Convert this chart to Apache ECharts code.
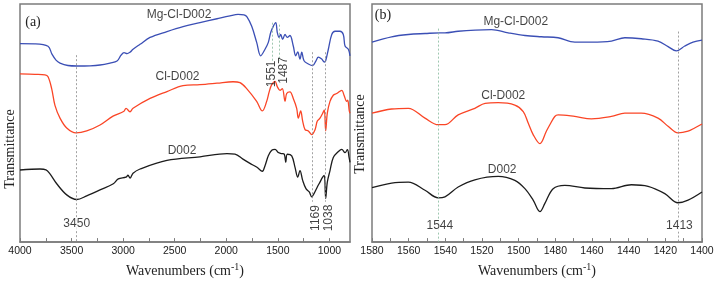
<!DOCTYPE html>
<html>
<head>
<meta charset="utf-8">
<script src="https://cdn.jsdelivr.net/npm/echarts@6/dist/echarts.min.js"></script>
<style>
  html, body { margin: 0; padding: 0; background: #fff; }
  #chart { width: 718px; height: 283px; }
</style>
</head>
<body>
<div id="chart"></div>
<script>
// panel (a): wavenumber, transmittance (offset, a.u.)
const aMg = [[4000,201.7],[3855,201.5],[3728,199],[3690,191],[3651,185],[3612,182],[3535,179.5],[3447,179],[3321,179.2],[3224,180],[3127,182],[3059,184],[3020,190],[2991,192.5],[2962,191.5],[2933,193],[2904,196],[2836,201],[2739,208],[2575,214],[2419,219],[2255,223],[2090,227],[1964,230],[1886,231.5],[1828,231],[1799,229],[1753,219.3],[1705,203],[1666,189.3],[1624,196],[1592,203],[1569,213],[1544,219.3],[1520,223],[1505,213],[1488,208],[1472,211],[1453,206],[1430,211],[1408,208],[1382,210],[1350,199.3],[1327,189.3],[1307,193.3],[1285,186],[1268,193],[1246,184.3],[1204,181],[1162,179.3],[1130,184.3],[1107,188],[1074,186],[1049,183],[1036,184.3],[1010,196],[977,211],[945,214.3],[897,214.3],[865,211],[848,199.3],[816,196],[800,189.3]];
const aCl = [[4000,171],[3855,170.5],[3758,170],[3728,168],[3693,156],[3661,139],[3612,126],[3547,116],[3457,111],[3353,113],[3224,119],[3098,128],[2992,133],[2972,136],[2933,132.5],[2904,136],[2739,146],[2575,153],[2419,159],[2255,160],[2090,161.5],[1934,163],[1867,162],[1802,156],[1705,143],[1650,133.3],[1608,143],[1583,153],[1559,160],[1527,163.3],[1505,158],[1479,154.3],[1456,156],[1430,143],[1414,151],[1382,152.7],[1350,146],[1317,136],[1301,126],[1278,133.3],[1259,123],[1236,114.3],[1204,113],[1171,109.3],[1139,114.3],[1117,123],[1091,126],[1065,131],[1049,134.3],[1036,113],[1020,131],[994,143],[962,149.3],[929,151],[880,154.3],[858,149.3],[832,143],[822,144.3],[807,133.3],[800,131]];
const aD = [[4000,73.3],[3806,74.3],[3748,73.5],[3709,69.3],[3644,59.3],[3547,48],[3450,43.3],[3353,47],[3224,53],[3095,59.3],[3047,64.3],[2972,66],[2953,68],[2933,65],[2904,70],[2836,74.3],[2575,83],[2255,86.7],[1993,90],[1915,89.5],[1838,84.3],[1770,80],[1702,76],[1650,72],[1624,77.7],[1592,87.7],[1559,93.3],[1527,94.3],[1495,91],[1462,90],[1437,89.3],[1423,81],[1408,89.3],[1365,87.7],[1333,76],[1307,66],[1285,72.7],[1259,62.7],[1227,54.3],[1195,51],[1171,46],[1149,49.3],[1117,56],[1091,61],[1065,66],[1049,67.7],[1036,44.3],[1020,61],[994,72.7],[962,86],[913,92],[880,94.3],[848,91],[825,94],[809,86],[800,81]];

// panel (b)
const bMg = [[1580,203.3],[1569.3,208.7],[1560.2,211],[1551,212],[1542.9,212.7],[1540.2,212.7],[1533,214.3],[1523.7,215.5],[1514.8,216],[1505.7,212.7],[1496.6,210],[1487.6,208.7],[1478.5,207.7],[1469.4,203.3],[1460.3,203.3],[1449.4,204.3],[1442.1,207.7],[1433.1,206.7],[1424,204.3],[1418.5,198.7],[1414,194.3],[1409.4,199.3],[1404.9,203.3],[1400,205.3]];
const bCl = [[1580,131],[1569.3,135.3],[1560.2,136],[1551.1,126],[1543.9,119.3],[1540.2,119.3],[1533,129.3],[1523.9,136],[1518.3,141],[1511.2,141.7],[1502.1,139.3],[1497.5,132.7],[1494.8,121],[1492.1,109.3],[1488.4,100],[1484.9,112.7],[1483,119.3],[1480.3,127.7],[1478.5,129.3],[1469.4,127.7],[1460.3,125.3],[1449.4,127.7],[1442.1,131],[1433.1,131],[1424,126],[1418.5,117.7],[1413.1,111],[1407.6,112.7],[1404,116],[1400,120]];
const bD = [[1580,55.3],[1569.3,60],[1560.2,61],[1551.1,52.7],[1543.9,45],[1540.2,46],[1533,56],[1523.9,63.3],[1511.2,66.7],[1502.1,62.7],[1496.6,54.3],[1492.1,42.7],[1488.4,31],[1485.7,39.3],[1481.2,54.3],[1474.8,57.7],[1463.9,55],[1449.4,54.3],[1438.5,58.3],[1429.4,56.7],[1420.3,49.3],[1413.1,40],[1407.6,42.7],[1400,51]];

// tick values
const aTicks = [4000, 3750, 3500, 3250, 3000, 2750, 2500, 2250, 2000, 1750, 1500, 1250, 1000];
const aLabels = [4000, 3500, 3000, 2500, 2000, 1500, 1000];
const bTicks = [1580, 1570, 1560, 1550, 1540, 1530, 1520, 1510, 1500, 1490, 1480, 1470, 1460, 1450, 1440, 1430, 1420, 1410, 1400];
const bLabels = [1580, 1560, 1540, 1520, 1500, 1480, 1460, 1440, 1420, 1400];

// guide lines: [wavenumber, from, to, kind]
const aGuides = [[3450, 190, 0, 'gray'], [1551, 223, 184, 'green'], [1487, 221, 184, 'green'], [1169, 193, 41, 'gray'], [1038, 193, 41, 'gray']];
const bGuides = [[1544, 217, 0, 'green'], [1413, 214, 0, 'gray']];

// text labels: [text, wavenumber, y, rotate]
const aNotes = [['Mg-Cl-D002', 2458, 231, 0], ['Cl-D002', 2473, 168, 0], ['D002', 2429, 93.3, 0],
  ['3450', 3450, 19, 0], ['1551', 1556, 171, 90], ['1487', 1440, 174.5, 90], ['1169', 1130, 24.5, 90], ['1038', 1004, 24.5, 90]];
const bNotes = [['Mg-Cl-D002', 1501.6, 223.7, 0], ['Cl-D002', 1508.4, 149.3, 0], ['D002', 1509, 73.3, 0],
  ['1544', 1543, 17, 0], ['1413', 1412.3, 17, 0]];

const blue = '#3b4fb5';
const red = '#fa4526';
const black = '#1c1c1c';
const frame = '#7c7c7c';

const chart = echarts.init(document.getElementById('chart'));

function xAxis(gridIndex, min, max, ticks, labels) {
  return {
    type: 'value', gridIndex, min, max, inverse: true,
    axisLine: { show: true, lineStyle: { color: frame, width: 1.5 } },
    axisTick: { show: true, inside: true, length: 4, customValues: ticks, lineStyle: { color: frame } },
    axisLabel: {
      customValues: labels, formatter: v => String(v),
      color: '#1a1a1a', fontSize: 10.5, fontFamily: 'Liberation Sans', margin: 4
    },
    splitLine: { show: false },
    name: 'Wavenumbers (cm{s|-1})',
    nameLocation: 'middle', nameGap: 18,
    nameTextStyle: {
      fontFamily: 'Liberation Serif', fontSize: 14, color: '#222',
      rich: { s: { fontFamily: 'Liberation Serif', fontSize: 10, verticalAlign: 'top', padding: [0, 0, 8, 0] } }
    }
  };
}

function yAxis(gridIndex) {
  return {
    type: 'value', gridIndex, min: 0, max: 242,
    axisLine: { show: false }, axisTick: { show: false }, axisLabel: { show: false }, splitLine: { show: false }
  };
}

function spectrum(idx, data, color) {
  return {
    type: 'line', xAxisIndex: idx, yAxisIndex: idx, data, showSymbol: false, symbol: 'none',
    smooth: 0.35, lineStyle: { color, width: 1.3 }, silent: true
  };
}

function guides(idx, list) {
  return {
    type: 'line', xAxisIndex: idx, yAxisIndex: idx, data: [], silent: true,
    markLine: {
      symbol: 'none', silent: true, label: { show: false },
      data: list.map(g => [
        { coord: [g[0], g[1]], lineStyle: { color: g[3] === 'green' ? '#86b99c' : '#8a8a8a', type: [2, 2], width: 0.8 } },
        { coord: [g[0], g[2]] }
      ])
    }
  };
}

function notes(idx, list) {
  return {
    type: 'scatter', xAxisIndex: idx, yAxisIndex: idx, symbolSize: 0, silent: true, z: 5,
    itemStyle: { color: '#111' },
    data: list.map(n => ({
      name: n[0], value: [n[1], n[2]],
      label: {
        show: true, position: 'inside', formatter: '{b}', rotate: n[3],
        color: '#111', fontSize: 12, fontFamily: 'Liberation Sans',
        backgroundColor: n[3] === 0 && /^\d/.test(n[0]) ? '#fff' : 'transparent'
      }
    }))
  };
}

chart.setOption({
  animation: false,
  grid: [
    { left: 20, top: 4, width: 330, height: 242, show: true, borderColor: frame, borderWidth: 1.5 },
    { left: 372, top: 4, width: 330, height: 242, show: true, borderColor: frame, borderWidth: 1.5 }
  ],
  xAxis: [xAxis(0, 800, 4000, aTicks, aLabels), xAxis(1, 1400, 1580, bTicks, bLabels)],
  yAxis: [yAxis(0), yAxis(1)],
  graphic: [
    { type: 'text', x: 33, y: 22, style: { text: '(a)', font: '14px "Liberation Serif"', fill: '#222', textAlign: 'center', textVerticalAlign: 'middle' } },
    { type: 'text', x: 383, y: 15, style: { text: '(b)', font: '14px "Liberation Serif"', fill: '#222', textAlign: 'center', textVerticalAlign: 'middle' } },
    { type: 'text', x: 10, y: 149, rotation: Math.PI / 2, style: { text: 'Transmittance', font: '14px "Liberation Serif"', fill: '#222', textAlign: 'center', textVerticalAlign: 'middle' } },
    { type: 'text', x: 360, y: 134, rotation: Math.PI / 2, style: { text: 'Transmittance', font: '14px "Liberation Serif"', fill: '#222', textAlign: 'center', textVerticalAlign: 'middle' } }
  ],
  series: [
    guides(0, aGuides), guides(1, bGuides),
    spectrum(0, aMg, blue), spectrum(0, aCl, red), spectrum(0, aD, black),
    spectrum(1, bMg, blue), spectrum(1, bCl, red), spectrum(1, bD, black),
    notes(0, aNotes), notes(1, bNotes)
  ]
});
</script>
</body>
</html>
